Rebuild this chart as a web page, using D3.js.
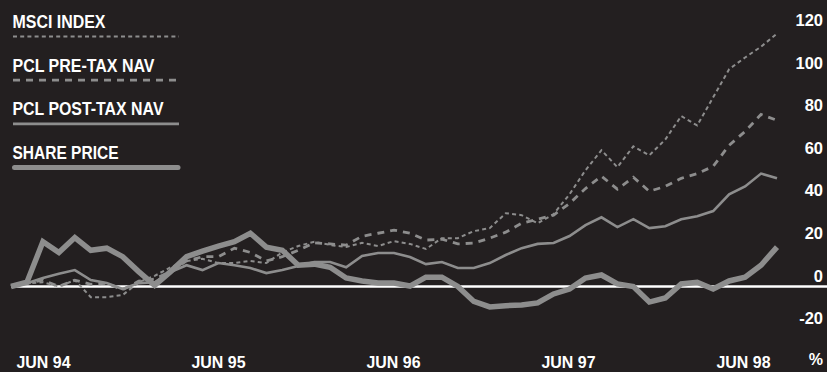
<!DOCTYPE html>
<html>
<head>
<meta charset="utf-8">
<script src="https://cdn.jsdelivr.net/npm/d3@7"></script>
<style>
  html, body { margin: 0; padding: 0; background: #231f20; }
  svg { display: block; }
</style>
</head>
<body>
<div id="chart"></div>
<script>
// ---------------- DATA ----------------
// Monthly observations, June 1994 to June 1998 (49 months)
const startMonth = new Date(1994, 5, 1);
const endMonth = new Date(1998, 6, 1);
const months = d3.timeMonths(startMonth, endMonth); // 49 month starts

const msciIndex = [0, 1.5, 2, 0, 3, -5, -5, -4, 2, 5, 9, 12, 13, 11, 11, 12, 11, 16, 19, 21,
  19.5, 18.5, 20.5, 19, 21.3, 20, 17.6, 22.7, 22.7, 26, 27.4, 34.4, 33.5, 29.7, 34, 43.3,
  54.6, 64, 56, 65.8, 61.6, 69, 80, 75.6, 88.8, 102, 107.5, 112.6, 118.7];

const pclPreTaxNav = [0, 1.5, 3, 0, 3, 1, 1.5, -1.5, 2.5, 3.5, 7, 12, 14, 14, 18, 16, 12, 14, 17, 20.5,
  20, 19.4, 23.6, 25, 26.5, 25, 21.8, 22.2, 20, 20.4, 22.7, 25.5, 29.7, 31.6, 33.5, 39,
  46, 51.8, 45.7, 51.3, 44.7, 47, 50.8, 53, 56.4, 66.3, 72.8, 80.8, 78];

const pclPostTaxNav = [0, 1.5, 4, 6, 7.7, 3, 1.6, -1.2, 1.6, 2, 6.8, 10, 7.7, 11, 10, 8.7, 6.3, 7.7, 9.6, 11.5,
  11.5, 9, 14.3, 15.7, 15.7, 13.8, 10.5, 11.5, 8.7, 8.7, 11, 14.8, 18, 20, 20.4, 23.7,
  28.8, 32.5, 27.9, 31.6, 27.4, 28.3, 31.6, 33, 35.4, 43.3, 47, 53, 50.8];

const sharePrice = [0, 2, 21, 16, 23, 17, 18, 14, 7, 0.5, 7, 14, 16.6, 19, 21, 25, 18.5, 17, 10, 10.5,
  9, 4, 2.6, 1.6, 1.6, 0.2, 4.4, 4.4, 0, -7, -9.6, -9, -8.7, -7.7, -3.5, -1.2,
  4, 5.4, 1.2, 0, -7.3, -5.4, 1.2, 2, -1.2, 2.6, 4.4, 10, 18.5];

const xTickLabels = ["JUN 94", "JUN 95", "JUN 96", "JUN 97", "JUN 98"];
const yTickValues = [-20, 0, 20, 40, 60, 80, 100, 120];
const unitLabel = "%";

const seriesNames = ["MSCI INDEX", "PCL PRE-TAX NAV", "PCL POST-TAX NAV", "SHARE PRICE"];

// ---------------- STYLES ----------------
const W = 827, H = 372;
const BG = "#231f20";
const LINE_GREY = "#8d8d8d";
const FONT = "'Liberation Sans', Arial, sans-serif";

const styles = [
  { width: 2,   dash: "4,3.2", cap: "butt",  legendTextLen: 93 },
  { width: 2.8, dash: "7,6",   cap: "butt",  legendTextLen: 142 },
  { width: 2.6, dash: null,    cap: "butt",  legendTextLen: 151 },
  { width: 5.5, dash: null,    cap: "round", legendTextLen: 106 }
];
const seriesData = [msciIndex, pclPreTaxNav, pclPostTaxNav, sharePrice];

// ---------------- SVG ----------------
const svg = d3.select("#chart").append("svg")
  .attr("width", W).attr("height", H);

svg.append("rect").attr("width", W).attr("height", H).attr("fill", BG);

// scales
const x = d3.scalePoint()
  .domain(months.map(d => +d))
  .range([11, 777]);

const y = d3.scaleLinear()
  .domain([-20, 120])
  .range([329.1, 30.9]);

// zero line
svg.append("line")
  .attr("x1", 11).attr("x2", W)
  .attr("y1", y(0)).attr("y2", y(0))
  .attr("stroke", "#ffffff").attr("stroke-width", 2.4);

// lines
const line = d3.line()
  .x((d, i) => x(+months[i]))
  .y(d => y(d));

seriesData.forEach((vals, k) => {
  const st = styles[k];
  svg.append("path")
    .datum(vals)
    .attr("d", line)
    .attr("fill", "none")
    .attr("stroke", LINE_GREY)
    .attr("stroke-width", st.width)
    .attr("stroke-dasharray", st.dash)
    .attr("stroke-linejoin", "miter")
    .attr("stroke-miterlimit", 3)
    .attr("stroke-linecap", "butt");
});

// right axis
const yAxis = d3.axisRight(y).tickValues(yTickValues).tickSize(0).tickFormat(d => String(d));
const gy = svg.append("g").attr("transform", `translate(823,0)`).call(yAxis);
gy.select(".domain").remove();
gy.selectAll("text")
  .attr("x", 0).attr("dy", -5.5)
  .attr("text-anchor", "end")
  .attr("fill", "#ffffff")
  .style("font-family", FONT)
  .style("font-weight", "bold")
  .style("font-size", "16.5px");

svg.append("text")
  .attr("x", 823).attr("y", 365)
  .attr("text-anchor", "end")
  .attr("fill", "#ffffff")
  .style("font-family", FONT).style("font-weight", "bold").style("font-size", "16px")
  .text(unitLabel);

// bottom labels
const xl = d3.scalePoint().domain(xTickLabels).range([43, 743]);
const xAxis = d3.axisBottom(xl).tickSize(0);
const gx = svg.append("g").attr("transform", "translate(0,352)").call(xAxis);
gx.select(".domain").remove();
gx.selectAll("text")
  .attr("y", 0).attr("dy", "0.95em")
  .attr("fill", "#ffffff")
  .attr("textLength", 54)
  .attr("lengthAdjust", "spacingAndGlyphs")
  .style("font-family", FONT)
  .style("font-weight", "bold")
  .style("font-size", "16.5px");

// legend
const legend = svg.append("g");
seriesNames.forEach((name, k) => {
  const st = styles[k];
  const base = 28 + k * 43.7;
  legend.append("text")
    .attr("x", 12.5).attr("y", base)
    .attr("fill", "#ffffff")
    .attr("textLength", st.legendTextLen)
    .attr("lengthAdjust", "spacingAndGlyphs")
    .style("font-family", FONT).style("font-weight", "bold").style("font-size", "17.5px")
    .text(name);
  const ly = base + 8.5;
  legend.append("line")
    .attr("x1", k === 3 ? 14.5 : 13).attr("x2", k === 3 ? 178 : 179)
    .attr("y1", ly).attr("y2", ly)
    .attr("stroke", LINE_GREY)
    .attr("stroke-width", k === 3 ? 5 : st.width)
    .attr("stroke-dasharray", st.dash)
    .attr("stroke-linecap", st.cap);
});
</script>
</body>
</html>
